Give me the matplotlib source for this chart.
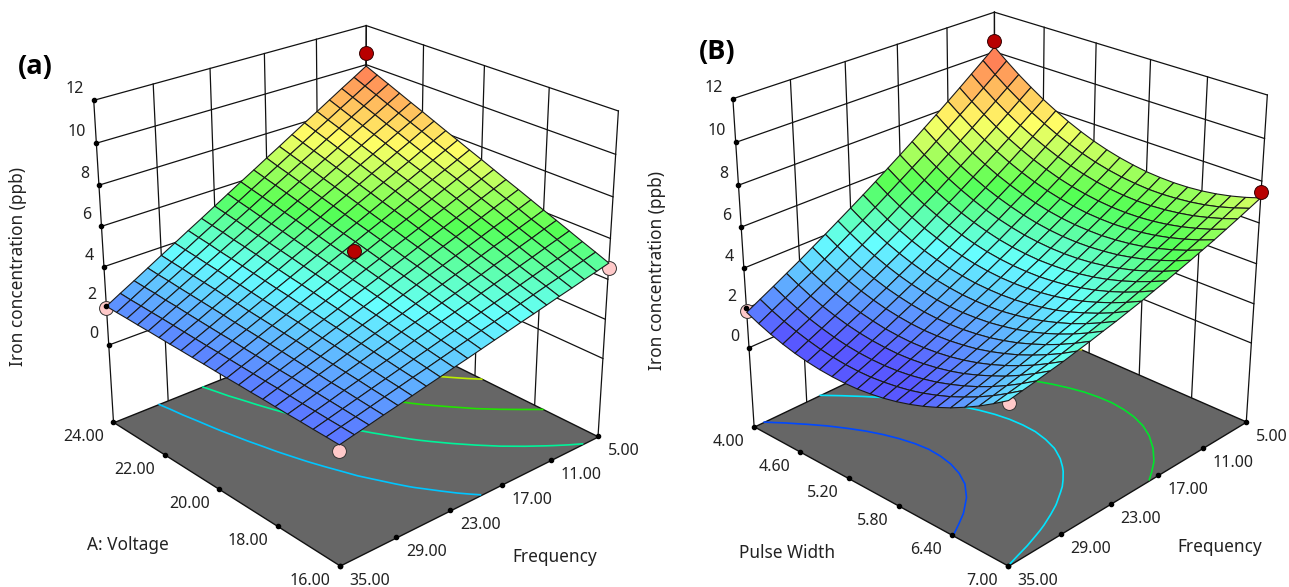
import numpy as np
import matplotlib
matplotlib.use('Agg')
import matplotlib.pyplot as plt
from matplotlib.colors import LinearSegmentedColormap
from mpl_toolkits.mplot3d import proj3d
from mpl_toolkits.mplot3d.art3d import Poly3DCollection

plt.rcParams['font.family'] = ['Noto Sans', 'DejaVu Sans']
W, H = 1289, 587
S = 700.0

voltage_ticks = [24, 22, 20, 18, 16]
pulse_ticks = [4.0, 4.6, 5.2, 5.8, 6.4, 7.0]
freq_ticks = [5, 11, 17, 23, 29, 35]
z_ticks = [0, 2, 4, 6, 8, 10, 12]
voltage_grid = [16.0,16.4,16.8,17.2,17.6,18.0,18.4,18.8,19.2,19.6,20.0,20.4,20.8,21.2,21.6,22.0,22.4,22.8,23.2,23.6,24.0]
pulse_grid = [4.0,4.15,4.3,4.45,4.6,4.75,4.9,5.05,5.2,5.35,5.5,5.65,5.8,5.95,6.1,6.25,6.4,6.55,6.7,6.85,7.0]
freq_grid = [5.0,6.5,8.0,9.5,11.0,12.5,14.0,15.5,17.0,18.5,20.0,21.5,23.0,24.5,26.0,27.5,29.0,30.5,32.0,33.5,35.0]
iron_a = [
 [4.80,4.64,4.49,4.33,4.18,4.02,3.86,3.71,3.55,3.40,3.24,3.08,2.93,2.77,2.62,2.46,2.30,2.15,1.99,1.84,1.68],
 [5.06,4.89,4.72,4.55,4.39,4.22,4.05,3.88,3.71,3.55,3.38,3.21,3.04,2.87,2.71,2.54,2.37,2.20,2.03,1.87,1.70],
 [5.31,5.13,4.95,4.77,4.59,4.41,4.23,4.05,3.87,3.69,3.51,3.33,3.15,2.97,2.79,2.61,2.43,2.25,2.07,1.89,1.71],
 [5.57,5.38,5.19,4.99,4.80,4.61,4.42,4.23,4.03,3.84,3.65,3.46,3.27,3.07,2.88,2.69,2.50,2.31,2.11,1.92,1.73],
 [5.83,5.63,5.42,5.22,5.01,4.81,4.60,4.40,4.19,3.99,3.78,3.58,3.38,3.17,2.97,2.76,2.56,2.35,2.15,1.94,1.74],
 [6.08,5.86,5.65,5.43,5.22,5.00,4.78,4.57,4.35,4.14,3.92,3.70,3.49,3.27,3.06,2.84,2.62,2.41,2.19,1.98,1.76],
 [6.34,6.11,5.88,5.66,5.43,5.20,4.97,4.74,4.52,4.29,4.06,3.83,3.60,3.38,3.15,2.92,2.69,2.46,2.24,2.01,1.78],
 [6.60,6.36,6.12,5.88,5.64,5.40,5.16,4.92,4.68,4.44,4.20,3.95,3.71,3.47,3.23,2.99,2.75,2.51,2.27,2.03,1.79],
 [6.85,6.60,6.35,6.09,5.84,5.59,5.34,5.09,4.83,4.58,4.33,4.08,3.83,3.57,3.32,3.07,2.82,2.57,2.31,2.06,1.81],
 [7.11,6.85,6.58,6.32,6.05,5.79,5.52,5.26,5.00,4.73,4.47,4.20,3.94,3.67,3.41,3.15,2.88,2.62,2.35,2.09,1.82],
 [7.37,7.09,6.82,6.54,6.26,5.99,5.71,5.44,5.16,4.88,4.61,4.33,4.05,3.78,3.50,3.22,2.95,2.67,2.39,2.12,1.84],
 [7.62,7.33,7.04,6.76,6.47,6.18,5.89,5.60,5.32,5.03,4.74,4.45,4.16,3.88,3.59,3.30,3.01,2.72,2.44,2.15,1.86],
 [7.88,7.58,7.28,6.98,6.68,6.38,6.07,5.77,5.47,5.17,4.87,4.57,4.27,3.97,3.67,3.37,3.07,2.77,2.47,2.17,1.87],
 [8.13,7.82,7.51,7.19,6.88,6.57,6.26,5.95,5.63,5.32,5.01,4.70,4.39,4.07,3.76,3.45,3.14,2.83,2.51,2.20,1.89],
 [8.39,8.07,7.74,7.42,7.09,6.77,6.44,6.12,5.80,5.47,5.15,4.82,4.50,4.17,3.85,3.53,3.20,2.88,2.55,2.23,1.90],
 [8.65,8.31,7.98,7.64,7.30,6.97,6.63,6.29,5.96,5.62,5.29,4.95,4.61,4.28,3.94,3.60,3.27,2.93,2.59,2.26,1.92],
 [8.90,8.55,8.20,7.86,7.51,7.16,6.81,6.46,6.12,5.77,5.42,5.07,4.72,4.38,4.03,3.68,3.33,2.98,2.64,2.29,1.94],
 [9.16,8.80,8.44,8.08,7.72,7.36,7.00,6.64,6.28,5.92,5.56,5.19,4.83,4.47,4.11,3.75,3.39,3.03,2.67,2.31,1.95],
 [9.42,9.05,8.67,8.30,7.93,7.56,7.18,6.81,6.44,6.07,5.70,5.32,4.95,4.58,4.21,3.83,3.46,3.09,2.72,2.34,1.97],
 [9.67,9.29,8.90,8.52,8.13,7.75,7.36,6.98,6.59,6.21,5.83,5.44,5.06,4.67,4.29,3.90,3.52,3.13,2.75,2.36,1.98],
 [9.93,9.53,9.14,8.74,8.34,7.95,7.55,7.15,6.76,6.36,5.97,5.57,5.17,4.77,4.38,3.98,3.59,3.19,2.79,2.40,2.00],
]
iron_b = [
 [10.25,9.76,9.28,8.80,8.33,7.87,7.42,6.97,6.53,6.10,5.67,5.25,4.84,4.44,4.04,3.65,3.26,2.89,2.52,2.16,1.80],
 [9.73,9.25,8.78,8.31,7.86,7.41,6.97,6.53,6.11,5.69,5.27,4.86,4.46,4.08,3.69,3.31,2.93,2.58,2.22,1.87,1.52],
 [9.24,8.78,8.32,7.87,7.42,6.99,6.56,6.14,5.72,5.31,4.91,4.51,4.13,3.75,3.38,3.01,2.65,2.30,1.96,1.62,1.28],
 [8.80,8.35,7.90,7.46,7.03,6.60,6.19,5.78,5.37,4.98,4.59,4.20,3.83,3.47,3.10,2.75,2.40,2.06,1.73,1.41,1.08],
 [8.39,7.95,7.52,7.09,6.67,6.26,5.86,5.46,5.07,4.69,4.30,3.93,3.57,3.22,2.87,2.53,2.19,1.87,1.55,1.24,0.92],
 [8.03,7.60,7.18,6.76,6.35,5.95,5.56,5.18,4.80,4.43,4.06,3.70,3.35,3.01,2.67,2.35,2.02,1.71,1.40,1.10,0.80],
 [7.70,7.28,6.88,6.47,6.07,5.69,5.31,4.93,4.57,4.21,3.85,3.51,3.17,2.84,2.52,2.20,1.89,1.59,1.29,1.01,0.72],
 [7.41,7.01,6.61,6.22,5.83,5.46,5.10,4.73,4.38,4.03,3.69,3.35,3.03,2.72,2.40,2.10,1.79,1.51,1.22,0.95,0.68],
 [7.16,6.77,6.39,6.00,5.63,5.27,4.92,4.57,4.22,3.89,3.56,3.24,2.93,2.62,2.32,2.03,1.74,1.47,1.19,0.93,0.67],
 [6.95,6.57,6.20,5.83,5.47,5.12,4.78,4.44,4.11,3.79,3.47,3.16,2.86,2.57,2.28,2.00,1.72,1.46,1.20,0.95,0.70],
 [6.78,6.41,6.05,5.70,5.35,5.01,4.68,4.36,4.04,3.73,3.42,3.13,2.84,2.56,2.28,2.02,1.75,1.50,1.25,1.02,0.78],
 [6.65,6.29,5.94,5.60,5.26,4.94,4.62,4.31,4.00,3.71,3.41,3.13,2.85,2.59,2.32,2.07,1.81,1.58,1.34,1.12,0.89],
 [6.55,6.21,5.87,5.54,5.22,4.91,4.60,4.30,4.01,3.72,3.44,3.17,2.90,2.65,2.40,2.16,1.91,1.69,1.47,1.25,1.04],
 [6.50,6.16,5.84,5.52,5.21,4.91,4.62,4.33,4.05,3.78,3.51,3.25,3.00,2.76,2.51,2.28,2.05,1.84,1.63,1.43,1.23],
 [6.48,6.16,5.85,5.54,5.25,4.96,4.68,4.40,4.13,3.87,3.61,3.37,3.13,2.90,2.67,2.45,2.23,2.03,1.84,1.65,1.46],
 [6.50,6.20,5.90,5.60,5.32,5.04,4.77,4.51,4.25,4.01,3.76,3.52,3.30,3.08,2.86,2.66,2.45,2.27,2.08,1.90,1.73],
 [6.56,6.27,5.99,5.70,5.43,5.16,4.91,4.66,4.41,4.18,3.94,3.72,3.51,3.30,3.10,2.90,2.71,2.54,2.36,2.20,2.03],
 [6.66,6.38,6.11,5.84,5.58,5.33,5.08,4.84,4.61,4.39,4.17,3.96,3.75,3.56,3.37,3.19,3.01,2.84,2.68,2.53,2.38],
 [6.80,6.53,6.28,6.02,5.77,5.53,5.30,5.07,4.85,4.64,4.43,4.23,4.04,3.86,3.68,3.51,3.34,3.19,3.04,2.90,2.76],
 [6.98,6.73,6.48,6.23,5.99,5.77,5.55,5.33,5.13,4.93,4.73,4.54,4.37,4.20,4.03,3.87,3.72,3.58,3.44,3.32,3.19],
 [7.20,6.96,6.72,6.49,6.26,6.05,5.84,5.64,5.44,5.26,5.07,4.90,4.73,4.58,4.42,4.28,4.13,4.01,3.88,3.77,3.65],
]
contour_levels_a = [3.3, 4.6, 5.9, 7.2, 8.5]
contour_levels_b = [2.05, 3.65, 5.3, 7.3, 9.0]
# design points: x, frequency, measured value, surface value beneath it, above the surface?
points_a = [(24, 5, 10.60, 9.93, True), (20, 20, 5.10, 4.88, True), (24, 35, 1.91, 2.00, False),
            (16, 5, 4.56, 4.80, False), (16, 35, 1.40, 1.68, False)]
points_b = [(4, 5, 10.55, 10.25, True), (4, 35, 1.88, 1.80, False),
            (7, 5, 7.48, 7.20, True), (7, 35, 3.55, 3.65, False)]

def cmap_of(stops, cols):
    pos = [(z - stops[0])/(stops[-1]-stops[0]) for z in stops]
    return LinearSegmentedColormap.from_list('c', list(zip(pos, cols)))
S_STOPS = [1.3, 3.8, 5.6, 7.6, 10.6]
L_STOPS = [1.3, 3.9, 5.6, 7.6, 10.6]
surf_cmap = cmap_of(S_STOPS, ['#5858ff', '#66ffff', '#55ff55', '#ffff66', '#ff5050'])
line_cmap = cmap_of(L_STOPS, ['#0000ff', '#00ffff', '#00e000', '#e8f000', '#ff0000'])
def nz(v):
    return (np.asarray(v) - 1.3)/(10.6-1.3)

fig = plt.figure(figsize=(W/100, H/100), dpi=100)

def set_view(ax, p, xl, yl):
    elev, azim, focal, bx, bz, zoom, cx, cy, zf = p
    ax.set_xlim(*xl); ax.set_ylim(*yl); ax.set_zlim(zf, 12)
    ax.view_init(elev, azim)
    ax.set_proj_type('persp', focal_length=focal)
    ax.set_box_aspect((bx, 1.0, bz), zoom=zoom)

def draw_panel(p, xl, yl, xticks, xgrid, Zt, levels, points, xoff):
    elev, azim, focal, bx, bz, zoom, cx, cy, zf = p
    ax = fig.add_axes([(cx-S/2)/W, 1-(cy+S/2)/H, S/W, S/H], projection='3d', computed_zorder=False)
    ax.set_axis_off()
    ax.patch.set_alpha(0)
    set_view(ax, p, xl, yl)
    xback, xfront = xl[1], xl[0]
    y0, y1 = 5, 35
    lw = 0.9
    for yt in freq_ticks:
        ax.plot([xback, xback], [yt, yt], [zf, 12], color='#111', lw=lw, zorder=1)
    for xt in xticks:
        ax.plot([xt, xt], [y0, y0], [zf, 12], color='#111', lw=lw, zorder=1)
    for zt in z_ticks:
        ax.plot([xback, xback], [y0, y1], [zt, zt], color='#111', lw=lw, zorder=1)
        ax.plot([xfront, xback], [y0, y0], [zt, zt], color='#111', lw=lw, zorder=1)
    corners = [(xfront, y0, zf), (xfront, y1, zf), (xback, y1, zf), (xback, y0, zf)]
    ax.add_collection3d(Poly3DCollection([corners], facecolor='#666666', edgecolor='#111', linewidth=1.0, zorder=2))
    Xg, Yg = np.meshgrid(freq_grid, xgrid)[::-1]
    Z = np.array(Zt)
    ax.contour(Xg, Yg, Z, levels=levels, zdir='z', offset=zf,
               colors=[line_cmap(float(nz(v))) for v in levels], linewidths=1.2, zorder=3)
    for x, y, v, s, above in points:
        if not above:
            ax.plot([x], [y], [v], 'o', ms=10, mfc='#ffc9c9', mec='#333', mew=0.7, zorder=3.5)
    cell = (Z[:-1, :-1] + Z[1:, :-1] + Z[:-1, 1:] + Z[1:, 1:])/4
    ax.plot_surface(Xg, Yg, Z, rstride=1, cstride=1, facecolors=surf_cmap(nz(cell)), shade=False,
                    edgecolor='#1a1a1a', linewidth=0.8, antialiased=True, zorder=4)
    for x, y, v, s, above in points:
        if above:
            ax.plot([x, x], [y, y], [s, v], color='#111', lw=0.9, zorder=5)
            ax.plot([x], [y], [v], 'o', ms=10, mfc='#b80000', mec='#300', mew=0.7, zorder=6)
    set_view(ax, p, xl, yl)
    M = ax.get_proj()
    def tick(x, y, z, s, dx, dy, ha='center'):
        xs, ys, _ = proj3d.proj_transform(x, y, z, M)
        ax.plot([x], [y], [z], 'o', ms=3, color='k', zorder=7)
        ax.annotate(s, xy=(xs, ys), xytext=(dx, -dy), textcoords='offset pixels',
                    ha=ha, va='center', fontsize=11.5, color='#222', annotation_clip=False)
    for zt in z_ticks:
        tick(xback, y1, zt, str(zt), -10, -11, 'right')
    for xt in xticks:
        tick(xt, y1, zf, f'{xt:.2f}', xoff, 15)
    for yt in freq_ticks:
        tick(xfront, yt, zf, f'{yt:.2f}', 26 if yt == 5 else 30, 15)
    return ax

pa = [25.050, 138.179, 0.502, 1.007, 1.003, 0.857, 344.651, 283.325, -4.091]
pb = [25.860, 133.673, 0.508, 1.007, 1.005, 0.871, 991.303, 276.636, -4.123]
draw_panel(pa, (16, 24), (5, 35), voltage_ticks, voltage_grid, iron_a, contour_levels_a, points_a, -30)
draw_panel(pb, (7, 4), (5, 35), pulse_ticks, pulse_grid, iron_b, contour_levels_b, points_b, -26)

labels = [(35, 67, '(a)', True, 0), (717, 52, '(B)', True, 0),
          (18, 266, 'Iron concentration (ppb)', False, 90), (657, 270, 'Iron concentration (ppb)', False, 90),
          (128, 545, 'A: Voltage', False, 0), (555, 557, 'Frequency', False, 0),
          (787, 553, 'Pulse Width', False, 0), (1220, 547, 'Frequency', False, 0)]
for x, y, s, bold, rot in labels:
    if bold:
        fig.text(x/W, 1-y/H, s, fontsize=19.5, fontweight='bold', ha='center', va='center', family='Open Sans', color='k')
    else:
        fig.text(x/W, 1-y/H, s, rotation=rot, fontsize=12.4, ha='center', va='center', color='#222')
fig.savefig('out.png', dpi=100)
